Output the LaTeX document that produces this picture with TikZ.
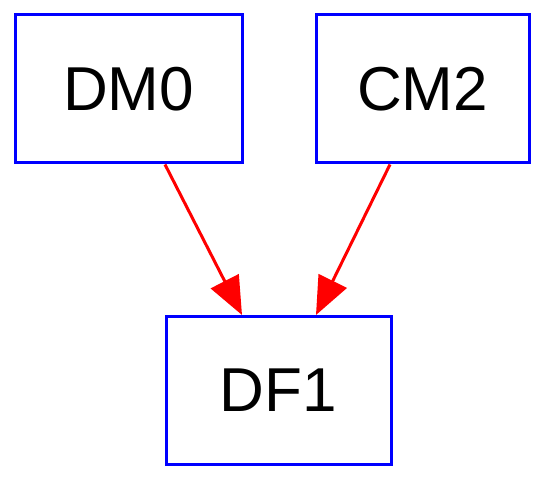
\documentclass[tikz,border=0pt]{standalone}
\usepackage{fontspec}
\setmainfont{Liberation Sans}
\usetikzlibrary{arrows.meta}
\begin{document}
\begin{tikzpicture}[x=1pt,y=1pt,
  box/.style={draw=blue,line width=3pt,minimum height=148pt,inner sep=0pt,font=\fontsize{62}{62}\selectfont},
  conn/.style={draw=red,line width=3pt,-{Triangle[length=38pt,width=31pt]}}]
\useasboundingbox (0,0) rectangle (558,483);
\node[box,minimum width=227pt] (DM0) at (128.5,394) {DM0};
\node[box,minimum width=213pt] (CM2) at (422.5,394) {CM2};
\node[box,minimum width=225pt] (DF1) at (278.5,92.5) {DF1};
\draw[conn] ([xshift=36.5pt]DM0.south) -- ([xshift=-36.5pt]DF1.north);
\draw[conn] ([xshift=-32.5pt]CM2.south) -- ([xshift=37.5pt]DF1.north);
\end{tikzpicture}
\end{document}
